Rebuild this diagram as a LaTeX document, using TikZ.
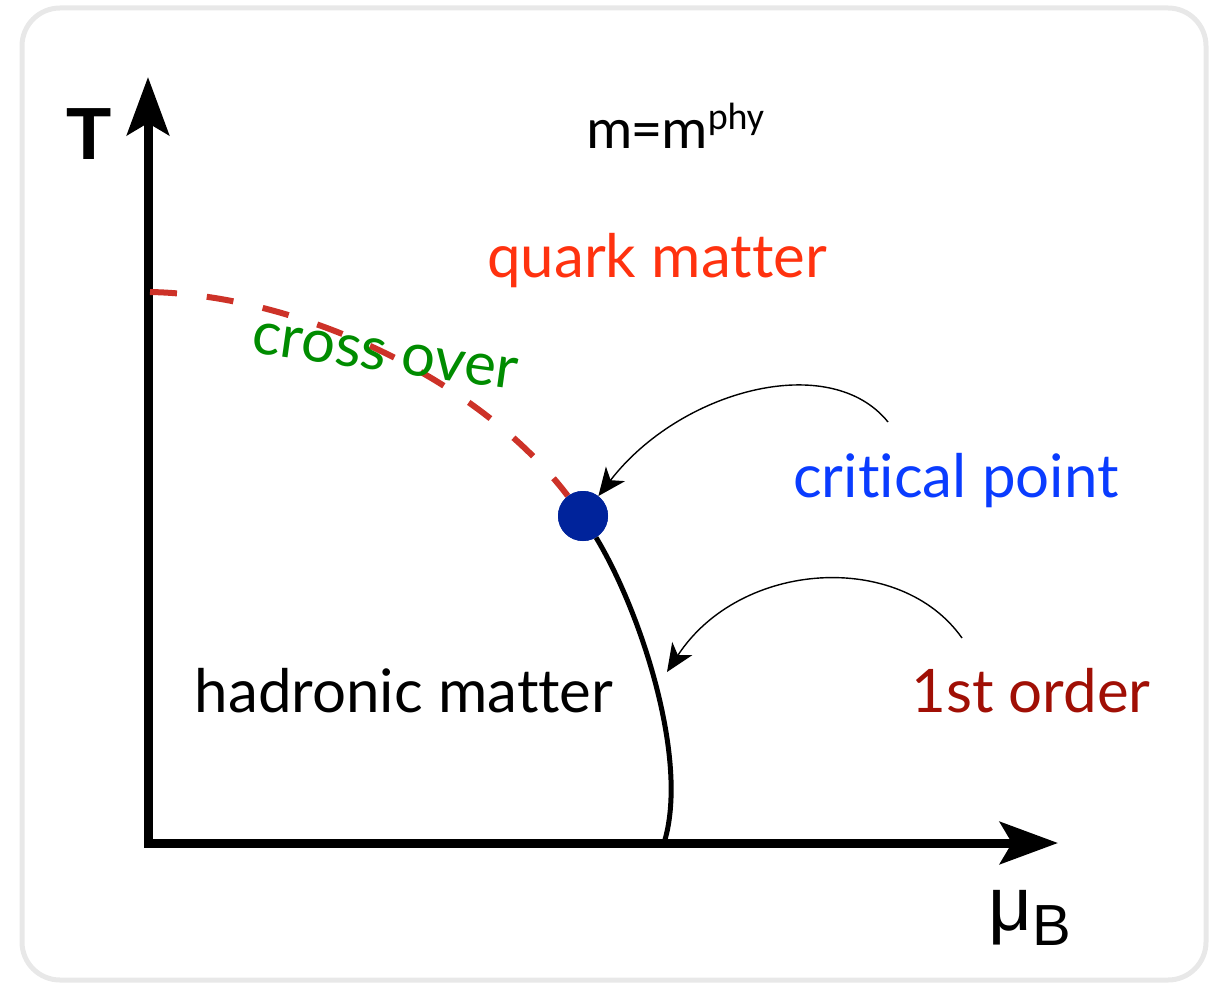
\documentclass[tikz,border=0pt]{standalone}
\usepackage{fontspec}
\setmainfont[Ligatures=NoCommon]{Lato}
\newfontfamily\axisfont{Liberation Sans}
\newfontfamily\calfont{Carlito}
\usetikzlibrary{arrows.meta}

\definecolor{framegray}{RGB}{232,232,232}
\definecolor{quarkred}{RGB}{255,50,15}
\definecolor{crossgreen}{RGB}{0,140,0}
\definecolor{crossred}{RGB}{205,50,40}
\definecolor{cpblue}{RGB}{0,35,155}
\definecolor{cptext}{RGB}{10,60,255}
\definecolor{orderred}{RGB}{160,15,5}

\begin{document}
\begin{tikzpicture}[x=1pt,y=-1pt,
  axis/.style={line width=9pt, -{Stealth[length=58pt,width=42pt,inset=12pt]}},
  phasetext/.style={inner sep=0pt, anchor=base, font=\fontsize{60}{62}\selectfont},
  pointer/.style={line width=1.4pt, -{Stealth[length=28pt,width=24pt,inset=8pt]}},
]
  \useasboundingbox (0,0) rectangle (1220,984);
  % Frame
  \draw[line width=5pt, draw=framegray, rounded corners=38pt] (22,8) rectangle (1206,980);

  % Draw axes
  \coordinate (ybase) at (148,847);
  \coordinate (ytip) at (148,77);
  \coordinate (xbase) at (144,843);
  \coordinate (xtip) at (1058,843);
  \draw[axis] (ybase) -- (ytip);
  \draw[axis] (xbase) -- (xtip);
  \node[anchor=base, inner sep=0pt, font=\axisfont\bfseries\fontsize{74}{74}\selectfont] (tlabel) at (89,160) {T};
  \node[anchor=base west, inner sep=0pt, font=\axisfont\fontsize{76}{76}\selectfont] (mulabel) at (988,930) {μ\raisebox{-15pt}{\fontsize{58}{58}\selectfont B}};

  % Labels
  \node[anchor=base west, inner sep=0pt, font=\calfont\fontsize{58}{58}\selectfont] (mass) at (586,149) {m=m\raisebox{19pt}{\fontsize{38}{38}\selectfont phy}};
  \node[phasetext, text=quarkred] (quark) at (657,277) {quark matter};
  \node[phasetext] (hadron) at (404,712) {hadronic matter};
  \node[phasetext, text=cptext] (cplabel) at (956,497) {critical point};
  \node[phasetext, text=orderred] (order) at (1031,712) {1st order};

  % Crossover line
  \coordinate (tc) at (150,292);
  \node[circle, fill=cpblue, minimum size=50pt, inner sep=0pt] (cp) at (583,516) {};
  \draw[crossred, line width=6pt, dash pattern=on 27pt off 30pt] (tc) .. controls (300,295) and (480,380) .. (cp);
  \node[inner sep=0pt, rotate=-8, text=crossgreen, font=\fontsize{60}{62}\selectfont] (cross) at (385,356) {cross over};
  \node[circle, fill=cpblue, minimum size=50pt, inner sep=0pt] at (cp) {};

  % First order line
  \coordinate (mu1) at (664,843);
  \draw[line width=5pt] (cp) .. controls (640,610) and (690,760) .. (mu1);

  % Pointers
  \coordinate (cptail) at (888,422);
  \coordinate (fotail) at (962,638);
  \coordinate (fo) at (667,672);
  \draw[pointer] (cptail) .. controls (830,350) and (680,390) .. (cp);
  \draw[pointer] (fotail) .. controls (900,550) and (740,560) .. (fo);
\end{tikzpicture}
\end{document}
